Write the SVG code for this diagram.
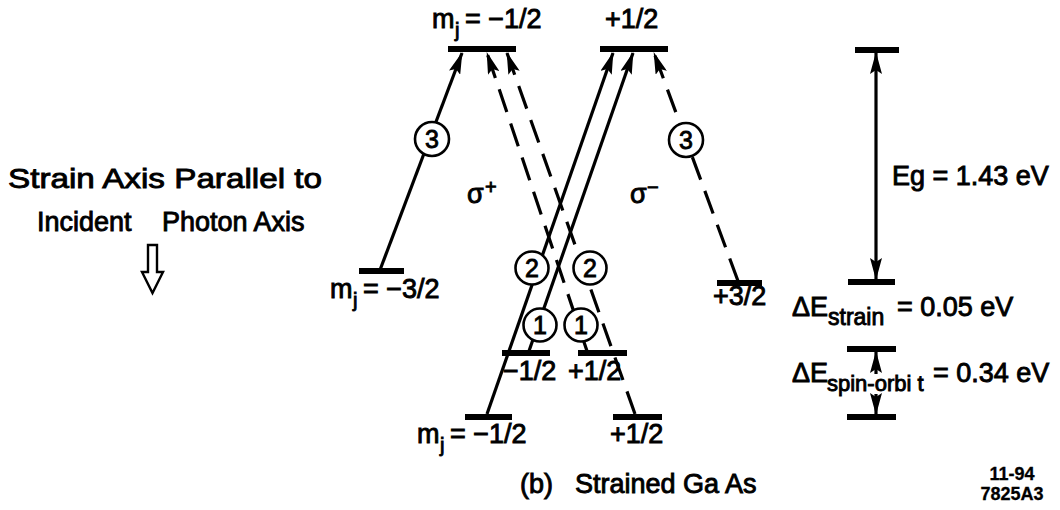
<svg xmlns="http://www.w3.org/2000/svg" width="1060" height="510" viewBox="0 0 1060 510">
<style>
text { font-family: "Liberation Sans", Arial, Helvetica, sans-serif; fill:#000; stroke:#000; stroke-width:0.9; }
.t { font-size:27px; }
.sub { font-size:20px; }
.ss { font-size:23px; }
.bar { stroke:#000; stroke-width:6; fill:none; }
.ln { stroke:#000; stroke-width:3.2; fill:none; }
.dash { stroke-dasharray:24 12; }
.circ { fill:#fff; stroke:#000; stroke-width:2.6; }
.cn { font-size:25px; text-anchor:middle; }
.code { font-size:18px; font-weight:bold; text-anchor:middle; stroke-width:0.3; }
</style>
<defs>
<marker id="ah" markerUnits="userSpaceOnUse" markerWidth="22" markerHeight="12" refX="21" refY="6" orient="auto-start-reverse" viewBox="0 0 22 12">
<path d="M0,0 L22,6 L0,12 L4,6 z" fill="#000"/>
</marker>
</defs>

<g id="left-text">
<text class="t" x="8" y="188" style="font-size:28.5px" textLength="314" lengthAdjust="spacingAndGlyphs">Strain Axis Parallel to</text>
<text class="t" x="37" y="231">Incident</text>
<text class="t" x="162" y="231">Photon Axis</text>
<polygon points="148,245 157,245 157,272 163,272 152.5,293 142,272 148,272" fill="#fff" stroke="#000" stroke-width="2.4"/>
</g>

<g id="connectors">
<path class="ln" d="M380,270 L462,53" marker-end="url(#ah)"/>
<path class="ln dash" d="M587,351 L487,53" marker-end="url(#ah)"/>
<path class="ln dash" d="M635,414 L507,53" marker-end="url(#ah)"/>
<path class="ln" d="M487,414 L613,53" marker-end="url(#ah)"/>
<path class="ln" d="M529,351 L633,53" marker-end="url(#ah)"/>
<path class="ln dash" d="M738,281 L654,53" marker-end="url(#ah)"/>
<path class="ln" d="M876,53 L876,279" marker-start="url(#ah)" marker-end="url(#ah)"/>
<path class="ln" d="M876,374 L876,352" marker-end="url(#ah)"/>
<path class="ln" d="M876,394 L876,414" marker-end="url(#ah)"/>
</g>

<g id="level-top-left">
<line class="bar" x1="448" y1="49" x2="516" y2="49"/>
<text class="t" x="432" y="28">m</text>
<text class="sub" x="455" y="37">j</text>
<text class="t" x="465" y="28">= −1/2</text>
</g>
<g id="level-top-right">
<line class="bar" x1="600" y1="49" x2="668" y2="49"/>
<text class="t" x="605" y="28">+1/2</text>
</g>
<g id="level-m32">
<line class="bar" x1="359" y1="271" x2="404" y2="271"/>
<text class="t" x="330" y="298">m</text>
<text class="sub" x="353" y="307">j</text>
<text class="t" x="363" y="298">= −3/2</text>
</g>
<g id="level-p32">
<line class="bar" x1="717" y1="283" x2="762" y2="283"/>
<text class="t" x="713" y="305">+3/2</text>
</g>
<g id="level-mid-m12">
<line class="bar" x1="502" y1="353" x2="550" y2="353"/>
<text class="t" x="503" y="380">−1/2</text>
</g>
<g id="level-mid-p12">
<line class="bar" x1="578" y1="353" x2="627" y2="353"/>
<text class="t" x="568" y="380">+1/2</text>
</g>
<g id="level-bot-m12">
<line class="bar" x1="465" y1="417" x2="512" y2="417"/>
<text class="t" x="417" y="443">m</text>
<text class="sub" x="440" y="452">j</text>
<text class="t" x="450" y="443">= −1/2</text>
</g>
<g id="level-bot-p12">
<line class="bar" x1="613" y1="417" x2="662" y2="417"/>
<text class="t" x="610" y="443">+1/2</text>
</g>

<g id="sigma-labels">
<text class="t" x="467" y="203">σ</text>
<text class="sub" x="485" y="194">+</text>
<text class="t" x="630" y="203">σ</text>
<text class="sub" x="647" y="194">−</text>
</g>

<g id="circle-3-left"><circle class="circ" cx="432" cy="139" r="17"/><text class="cn" x="432" y="148">3</text></g>
<g id="circle-3-right"><circle class="circ" cx="686" cy="140" r="17"/><text class="cn" x="686" y="149">3</text></g>
<g id="circle-2-left"><circle class="circ" cx="532" cy="268" r="16.5"/><text class="cn" x="532" y="277">2</text></g>
<g id="circle-2-right"><circle class="circ" cx="590" cy="268" r="16.5"/><text class="cn" x="590" y="277">2</text></g>
<g id="circle-1-left"><circle class="circ" cx="540" cy="325" r="16.5"/><text class="cn" x="540" y="334">1</text></g>
<g id="circle-1-right"><circle class="circ" cx="581" cy="325" r="16.5"/><text class="cn" x="581" y="334">1</text></g>

<g id="energy-scale">
<line class="bar" x1="855" y1="50" x2="899" y2="50"/>
<line class="bar" x1="848" y1="282" x2="895" y2="282"/>
<line class="bar" x1="847" y1="349" x2="896" y2="349"/>
<line class="bar" x1="847" y1="417" x2="896" y2="417"/>
<text class="t" x="892" y="185">Eg = 1.43 eV</text>
<text class="t" x="792" y="316">ΔE</text>
<text class="ss" x="828" y="325">strain</text>
<text class="t" x="897" y="316">= 0.05 eV</text>
<text class="t" x="792" y="382">ΔE</text>
<text class="ss" x="827" y="391" style="font-size:22px">spin-orbi t</text>
<text class="t" x="933" y="382">= 0.34 eV</text>
</g>

<g id="caption">
<text class="t" x="520" y="493">(b)</text>
<text class="t" x="575" y="493">Strained Ga As</text>
<text class="code" x="1012" y="480">11-94</text>
<text class="code" x="1012" y="500">7825A3</text>
</g>
</svg>
